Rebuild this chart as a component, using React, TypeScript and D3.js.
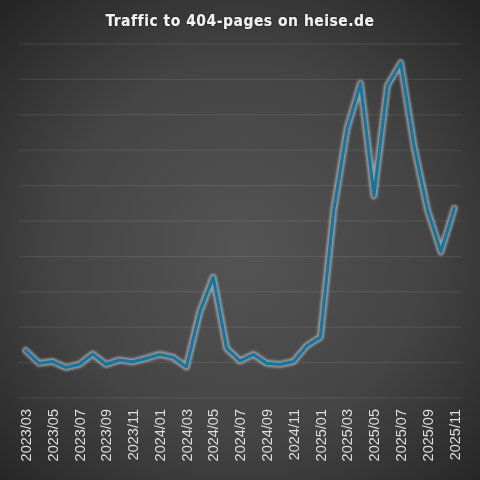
import React from "react";
import * as d3 from "d3";

const months = [
  "2023/03","2023/04","2023/05","2023/06","2023/07","2023/08","2023/09","2023/10","2023/11","2023/12",
  "2024/01","2024/02","2024/03","2024/04","2024/05","2024/06","2024/07","2024/08","2024/09","2024/10",
  "2024/11","2024/12","2025/01","2025/02","2025/03","2025/04","2025/05","2025/06","2025/07","2025/08",
  "2025/09","2025/10","2025/11",
];
const traffic = [
  134, 98, 103, 86, 95, 124, 95, 107, 102, 112,
  123, 115, 88, 244, 341, 140, 105, 123, 98, 95,
  103, 148, 172, 531, 762, 889, 571, 882, 947, 710,
  531, 413, 536,
];
const tickLabels = months.filter((_, i) => i % 2 === 0);
const gridValues = d3.range(0, 1001, 100);
const title = "Traffic to 404-pages on heise.de";

export default function App() {
  const W = 480, H = 480;
  const x = d3.scaleBand<string>().domain(months).range([19, 461]).padding(0);
  const y = d3.scaleLinear().domain([0, 1000]).range([398, 44]);
  const px = (m: string) => (x(m) ?? 0) + x.bandwidth() / 2;
  const line = d3.line<number>().x((_, i) => px(months[i])).y((d) => y(d));
  const path = line(traffic) ?? "";

  return (
    <svg width={W} height={H} style={{ position: "fixed", top: 0, left: 0, display: "block" }}>
      <defs>
        <radialGradient id="bg" cx="240" cy="250" r="340" gradientUnits="userSpaceOnUse">
          <stop offset="0" stopColor="#545454" />
          <stop offset="0.55" stopColor="#444444" />
          <stop offset="1" stopColor="#252525" />
        </radialGradient>
        <filter id="glow" x="-10%" y="-10%" width="120%" height="120%">
          <feGaussianBlur stdDeviation="1.2" />
        </filter>
        <filter id="tglow" x="-10%" y="-30%" width="120%" height="160%">
          <feGaussianBlur in="SourceAlpha" stdDeviation="1.2" result="b" />
          <feFlood floodColor="#000" floodOpacity="0.6" />
          <feComposite in2="b" operator="in" result="s" />
          <feMerge>
            <feMergeNode in="s" />
            <feMergeNode in="SourceGraphic" />
          </feMerge>
        </filter>
      </defs>
      <rect width={W} height={H} fill="url(#bg)" />
      <text
        x={240}
        y={26}
        textAnchor="middle"
        fill="#f2f2f2"
        fontFamily="'DejaVu Sans Condensed', 'DejaVu Sans', sans-serif"
        fontWeight="bold"
        fontSize={15.5}
        letterSpacing={0.5}
        filter="url(#tglow)"
      >
        {title}
      </text>
      <g>
        {gridValues.map((v) => (
          <line key={v} x1={19} x2={461} y1={y(v)} y2={y(v)} stroke="#ffffff" strokeOpacity={0.1} strokeWidth={1} />
        ))}
      </g>
      <path d={path} fill="none" stroke="#bdbdbd" strokeWidth={7} strokeLinejoin="round" strokeLinecap="round" strokeOpacity={0.7} filter="url(#glow)" />
      <path d={path} fill="none" stroke="#17769f" strokeWidth={3.2} strokeLinejoin="round" strokeLinecap="round" />
      <g>
        {tickLabels.map((m) => (
          <text
            key={m}
            transform={`translate(${px(m)},409) rotate(-90)`}
            textAnchor="end"
            dy="0.36em"
            fill="#dedede"
            fontFamily="'Liberation Sans', Arial, sans-serif"
            fontSize={14.5}
          >
            {m}
          </text>
        ))}
      </g>
    </svg>
  );
}
